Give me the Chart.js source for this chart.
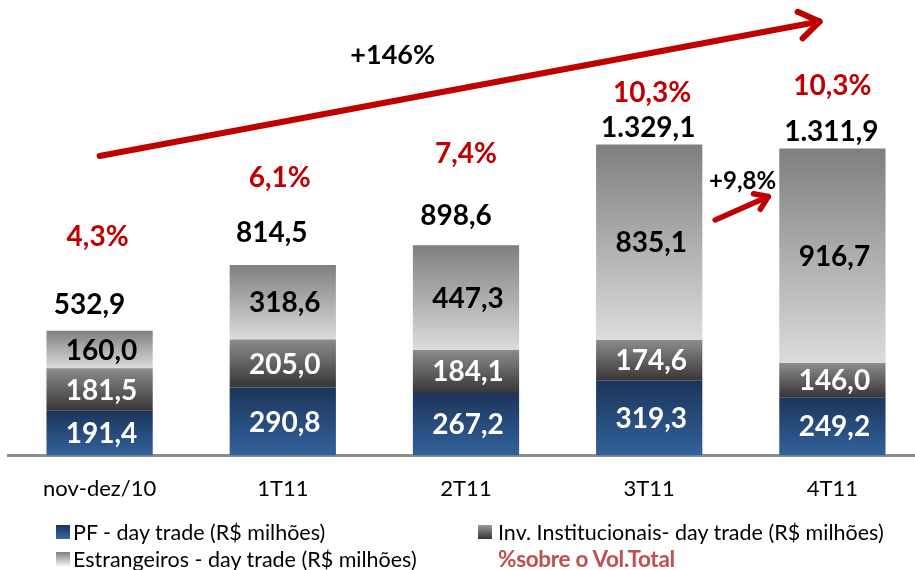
<!DOCTYPE html>
<html>
<head>
<meta charset="utf-8">
<script src="https://cdn.jsdelivr.net/npm/chart.js@4.4.1/dist/chart.umd.min.js"></script>
<style>
  body { margin: 0; width: 915px; height: 570px; overflow: hidden; background: #fff; font-family: Lato, sans-serif; position: relative; }
  #chart { position: absolute; left: 0; top: 0; }
  .leg { position: absolute; font-size: 21.5px; color: #000; white-space: nowrap; line-height: 24px; }
  .box { position: absolute; width: 14px; height: 14px; }
</style>
</head>
<body>
<canvas id="chart" width="924" height="520"></canvas>

<div class="box" style="left:56px;top:525px;background:linear-gradient(#1c355a,#3668a6)"></div>
<div class="leg" style="left:73px;top:520px">PF - day trade (R$ milhões)</div>
<div class="box" style="left:478px;top:525px;background:linear-gradient(#9a9a9a,#353535)"></div>
<div class="leg" style="left:498px;top:520px">Inv. Institucionais- day trade (R$ milhões)</div>
<div class="box" style="left:56px;top:552px;background:linear-gradient(#808080,#f2f2f2)"></div>
<div class="leg" style="left:73px;top:547px">Estrangeiros - day trade (R$ milhões)</div>
<div class="leg" style="left:498px;top:547px;color:#c0504d;font-weight:bold;font-size:22.5px;letter-spacing:-0.3px">%sobre o Vol.Total</div>

<script>
document.addEventListener("DOMContentLoaded", function () {
  // values
  const categories = ["nov-dez/10", "1T11", "2T11", "3T11", "4T11"];
  const pfValues = [191.4, 290.8, 267.2, 319.3, 249.2];
  const instValues = [181.5, 205.0, 184.1, 174.6, 146.0];
  const estrValues = [160.0, 318.6, 447.3, 835.1, 916.7];
  const totals = [532.9, 814.5, 898.6, 1329.1, 1311.9];
  const shareOfTotal = [4.3, 6.1, 7.4, 10.3, 10.3];
  const growthTotal = "+146%";
  const growthLast = "+9,8%";

  // label placement (px above bar top), tuned by eye
  const totalLift = [26, 32, 29, 17, 17];
  const totalShift = [-10, -11, -10, -1, -1];
  const pctLift = [94, 87, 91, 52, 63];
  const pctShift = [-2, -3, 0, 3, 0];

  const FONT = "Lato, sans-serif";

  function fmt(v) {
    const parts = v.toFixed(1).split(".");
    return parts[0].replace(/\B(?=(\d{3})+(?!\d))/g, ".") + "," + parts[1];
  }

  // vertical gradient for each segment
  function gradient(topColor, bottomColor) {
    return function (c) {
      const chart = c.chart;
      if (!chart.chartArea || c.dataIndex === undefined) return bottomColor;
      let base = 0;
      for (let d = 0; d < c.datasetIndex; d++) base += chart.data.datasets[d].data[c.dataIndex];
      const val = chart.data.datasets[c.datasetIndex].data[c.dataIndex];
      const y = chart.scales.y;
      const top = y.getPixelForValue(base + val);
      const bot = y.getPixelForValue(base);
      const g = chart.ctx.createLinearGradient(0, top, 0, bot);
      g.addColorStop(0, topColor);
      g.addColorStop(1, bottomColor);
      return g;
    };
  }

  function arrow(ctx, x1, y1, x2, y2, width, head) {
    const a = Math.atan2(y2 - y1, x2 - x1);
    ctx.save();
    ctx.strokeStyle = "#c00000";
    ctx.lineWidth = width;
    ctx.lineCap = "round";
    ctx.lineJoin = "round";
    ctx.beginPath();
    ctx.moveTo(x1, y1);
    ctx.lineTo(x2, y2);
    ctx.stroke();
    ctx.beginPath();
    ctx.moveTo(x2 - head * Math.cos(a - 0.6), y2 - head * Math.sin(a - 0.6));
    ctx.lineTo(x2, y2);
    ctx.lineTo(x2 - head * Math.cos(a + 0.6), y2 - head * Math.sin(a + 0.6));
    ctx.stroke();
    ctx.restore();
  }

  const labelPlugin = {
    id: "labels",
    afterDatasetsDraw(chart) {
      const ctx = chart.ctx;
      const xs = chart.scales.x, ys = chart.scales.y;
      ctx.save();
      ctx.textAlign = "center";
      ctx.textBaseline = "middle";
      ctx.font = "bold 28px " + FONT;

      // values inside segments
      chart.data.datasets.forEach((ds, i) => {
        const meta = chart.getDatasetMeta(i);
        meta.data.forEach((el, j) => {
          ctx.fillStyle = i < 2 ? "#ffffff" : "#000000";
          ctx.fillText(fmt(ds.data[j]), el.x + 2, (el.y + el.base) / 2 + 1);
        });
      });

      // totals and share labels
      const topMeta = chart.getDatasetMeta(chart.data.datasets.length - 1);
      topMeta.data.forEach((el, j) => {
        ctx.fillStyle = "#000000";
        ctx.fillText(fmt(totals[j]), el.x + totalShift[j], el.y - totalLift[j]);
        ctx.fillStyle = "#c00000";
        ctx.fillText(shareOfTotal[j].toFixed(1).replace(".", ",") + "%", el.x + pctShift[j], el.y - pctLift[j]);
      });

      // growth arrows
      const x0 = xs.getPixelForValue(0);
      const step = xs.getPixelForValue(1) - x0;
      const px = (i) => x0 + i * step;
      arrow(ctx, px(0), ys.getPixelForValue(1280), px(3.93), ys.getPixelForValue(1855), 6, 24);
      arrow(ctx, px(3.36), ys.getPixelForValue(1007), px(3.65), ys.getPixelForValue(1107), 5.5, 15);

      ctx.fillStyle = "#000000";
      ctx.font = "bold 27px " + FONT;
      ctx.fillText(growthTotal, px(1.6), ys.getPixelForValue(1712));
      ctx.font = "bold 24px " + FONT;
      ctx.fillText(growthLast, px(3.51), ys.getPixelForValue(1172));
      ctx.restore();
    }
  };

  const ctx = document.getElementById("chart").getContext("2d");
  new Chart(ctx, {
    type: "bar",
    data: {
      labels: categories,
      datasets: [
        { label: "PF - day trade (R$ milhões)", data: pfValues, backgroundColor: gradient("#1c355a", "#32629c") },
        { label: "Inv. Institucionais- day trade (R$ milhões)", data: instValues, backgroundColor: gradient("#8c8c8c", "#363636") },
        { label: "Estrangeiros - day trade (R$ milhões)", data: estrValues, backgroundColor: gradient("#7f7f7f", "#dcdcdc") }
      ]
    },
    options: {
      responsive: false,
      animation: false,
      devicePixelRatio: 1,
      layout: { padding: { left: 8, right: 0, top: 11, bottom: 14.5 } },
      datasets: { bar: { barPercentage: 0.58, categoryPercentage: 1 } },
      scales: {
        x: {
          stacked: true,
          grid: { display: false, drawTicks: false },
          border: { display: true, color: "#8c8c8c", width: 3 },
          ticks: { color: "#000", font: { family: FONT, size: 22 }, padding: 20, maxRotation: 0 },
          afterFit: function (scale) { scale.height = 50; }
        },
        y: { stacked: true, display: false, min: 0, max: 1900 }
      },
      plugins: { legend: { display: false }, tooltip: { enabled: false } }
    },
    plugins: [labelPlugin]
  });
});
</script>
</body>
</html>
